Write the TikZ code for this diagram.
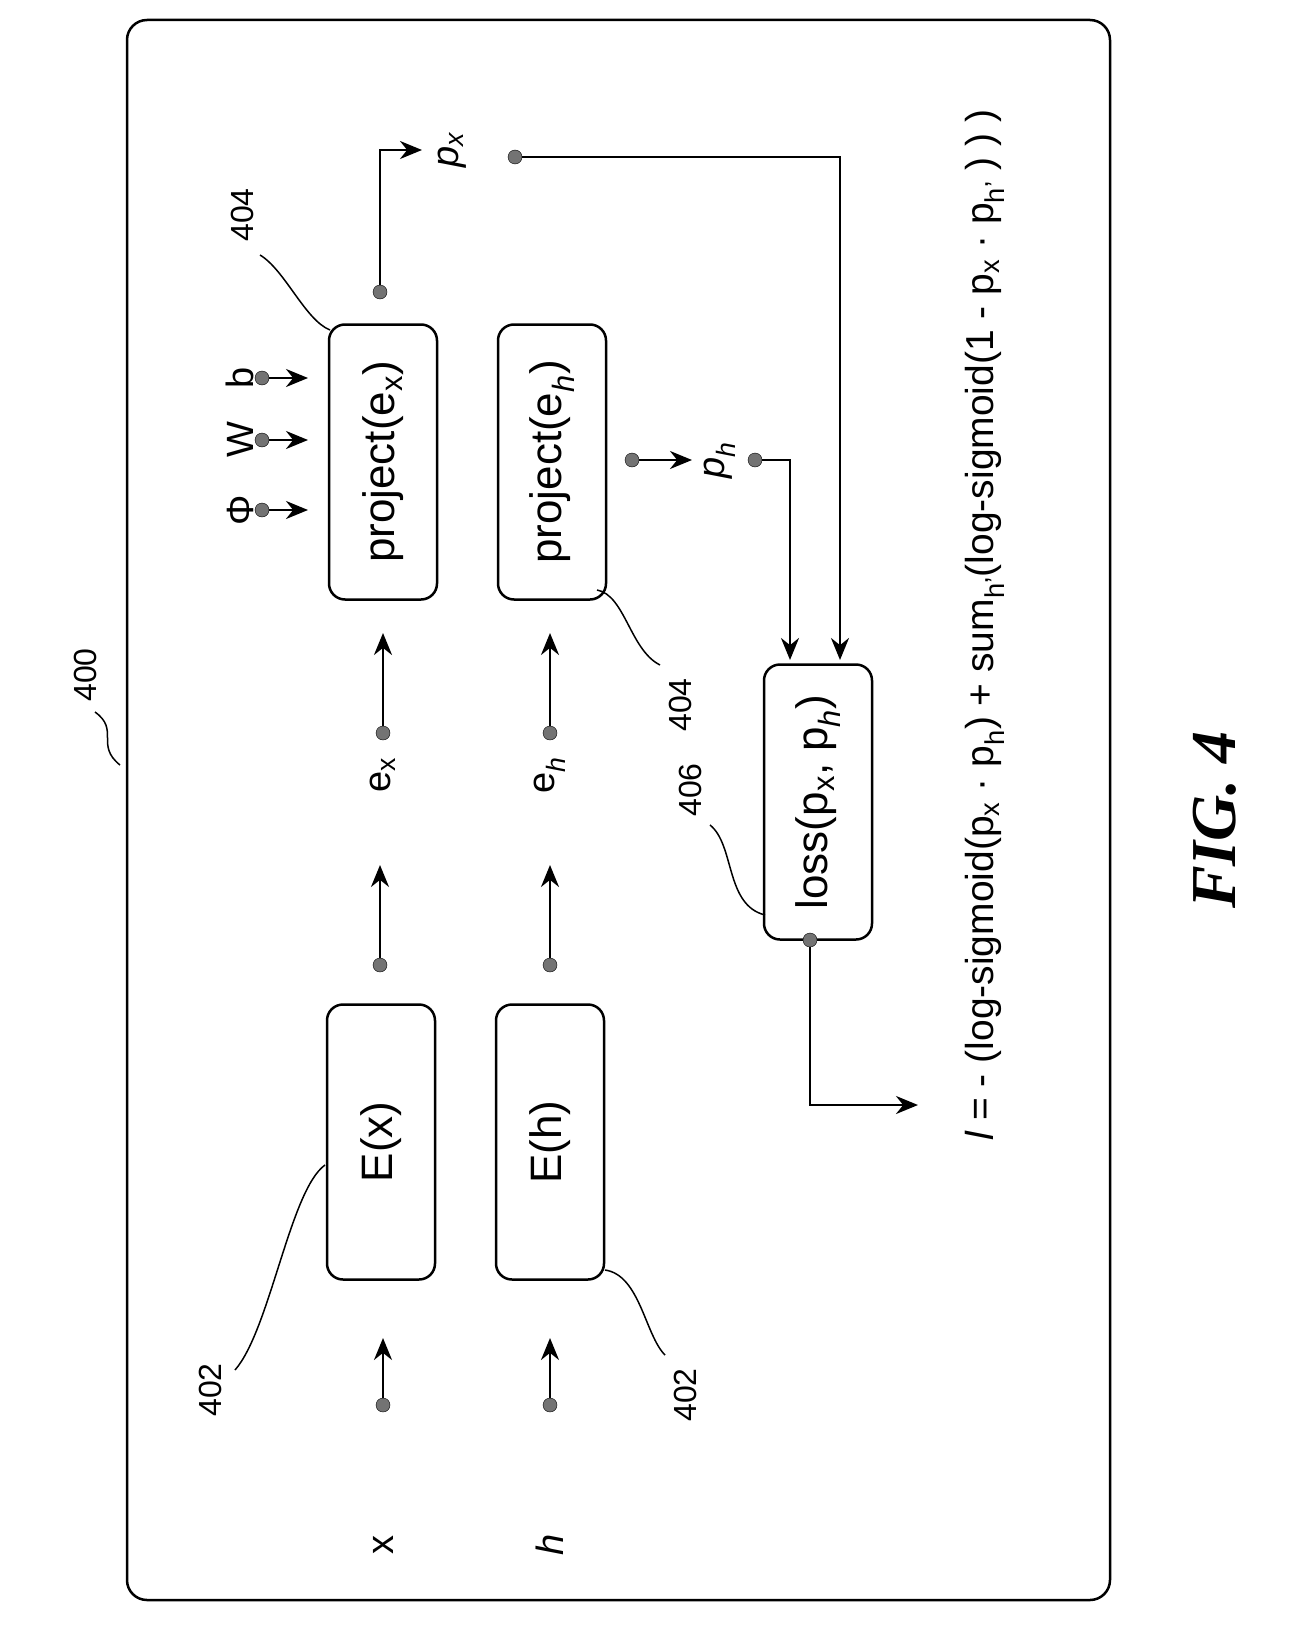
\documentclass[tikz,border=0pt]{standalone}
\usepackage{fontspec}
\setmainfont{Liberation Sans}
\newfontfamily\figfont{Liberation Serif}
\usetikzlibrary{arrows.meta}
\tikzstyle{block} = [rectangle, rounded corners=16pt, draw=black, line width=2.5pt, minimum width=275pt, minimum height=108pt, rotate=90, font=\fontsize{44}{50}\selectfont]
\tikzstyle{lbl} = [rotate=90, font=\fontsize{32}{38}\selectfont]
\tikzstyle{sym} = [rotate=90, font=\fontsize{38}{44}\selectfont]
\tikzstyle{arrow} = [line width=2.5pt, -{Stealth[length=22pt,width=18pt]}]
\tikzstyle{dot} = [circle, fill=black!55, draw=black, inner sep=0pt, minimum size=14pt]
\tikzstyle{lead} = [line width=1.5pt]
\newcommand{\sub}[1]{\textsubscript{#1}}

\begin{document}
\begin{tikzpicture}[x=1pt, y=-1pt]
\useasboundingbox (0,0) rectangle (1305,1632);

%% FRAME
\draw [line width=2.5pt, rounded corners=20pt] (127,20) rectangle (1110,1600);
\node (n400) [lbl] at (85,675) {400};
\draw [lead] (95,712) .. controls (120,730) and (95,745) .. (120,765);

%% NODES
\node (ex) [block] at (381,1142) {E(x)};
\node (eh) [block] at (550,1142) {E(h)};
\node (px) [block] at (383,462) {project(e\sub{x})};
\node (ph) [block] at (552,462) {project(e\sub{\itshape h})};
\node (loss) [block] at (818,802) {loss(p\sub{x}, p\sub{\itshape h})};

\node (xin) [sym] at (383,1545) {x};
\node (hin) [sym] at (550,1545) {\itshape h};
\node (exl) [sym] at (383,775) {e\sub{x}};
\node (ehl) [sym] at (550,775) {e\sub{\itshape h}};
\node (pxl) [sym] at (452,150) {\itshape p\sub{x}};
\node (phl) [sym] at (720,460) {\itshape p\sub{h}};
\node (phi) [sym] at (240,510) {Φ};
\node (wl) [sym] at (240,440) {W};
\node (bl) [sym] at (240,378) {b};

%% DOTS
\node (dx) [dot] at (383,1405) {};
\node (dh) [dot] at (550,1405) {};
\node (dex) [dot] at (380,965) {};
\node (deh) [dot] at (550,965) {};
\node (dexl) [dot] at (383,733) {};
\node (dehl) [dot] at (550,733) {};
\node (dpx) [dot] at (380,292) {};
\node (dpxl) [dot] at (515,157) {};
\node (dph) [dot] at (632,460) {};
\node (dphl) [dot] at (755,460) {};
\node (dloss) [dot] at (810,940) {};
\node (dphi) [dot] at (262,510) {};
\node (dw) [dot] at (262,440) {};
\node (db) [dot] at (262,378) {};
\coordinate (ax) at (383,1338);
\coordinate (ah) at (550,1338);
\coordinate (aex) at (380,865);
\coordinate (aeh) at (550,865);
\coordinate (aexl) at (383,633);
\coordinate (aehl) at (550,633);
\coordinate (apx) at (422,150);
\coordinate (aph) at (692,460);
\coordinate (aout) at (918,1105);

%% ARROWS
\draw [arrow] (dx) -- (ax);
\draw [arrow] (dh) -- (ah);
\draw [arrow] (dex) -- (aex);
\draw [arrow] (deh) -- (aeh);
\draw [arrow] (dexl) -- (aexl);
\draw [arrow] (dehl) -- (aehl);
\draw [arrow] (dpx) |- (apx);
\draw [arrow] (dph) -- (aph);
\draw [arrow] (dpxl) -| (840,660);
\draw [arrow] (dphl) -| (790,660);
\draw [arrow] (dloss) |- (aout);
\draw [arrow] (dphi) -- (308,510);
\draw [arrow] (dw) -- (308,440);
\draw [arrow] (db) -- (308,378);

%% LEADERS
\node (n402a) [lbl] at (210,1390) {402};
\draw [lead] (235,1370) .. controls (270,1330) and (290,1190) .. (325,1165);
\node (n402b) [lbl] at (685,1395) {402};
\draw [lead] (605,1270) .. controls (640,1275) and (645,1335) .. (665,1355);
\node (n404a) [lbl] at (242,215) {404};
\draw [lead] (260,255) .. controls (285,270) and (305,320) .. (330,330);
\node (n404b) [lbl] at (680,705) {404};
\draw [lead] (597,590) .. controls (625,595) and (630,650) .. (660,665);
\node (n406) [lbl] at (690,790) {406};
\draw [lead] (710,825) .. controls (735,845) and (725,905) .. (765,915);

%% FORMULA
\node (form) [rotate=90, font=\fontsize{39}{45}\selectfont] at (985,625) {\itshape l\upshape\ = - (log-sigmoid(p\sub{x} · p\sub{h}) + sum\sub{h'}(log-sigmoid(1 - p\sub{x} · p\sub{h'} ) ) )};
\node (fig) [rotate=90, font=\figfont\bfseries\itshape\fontsize{64}{70}\selectfont] at (1215,820) {FIG. 4};

\end{tikzpicture}
\end{document}
